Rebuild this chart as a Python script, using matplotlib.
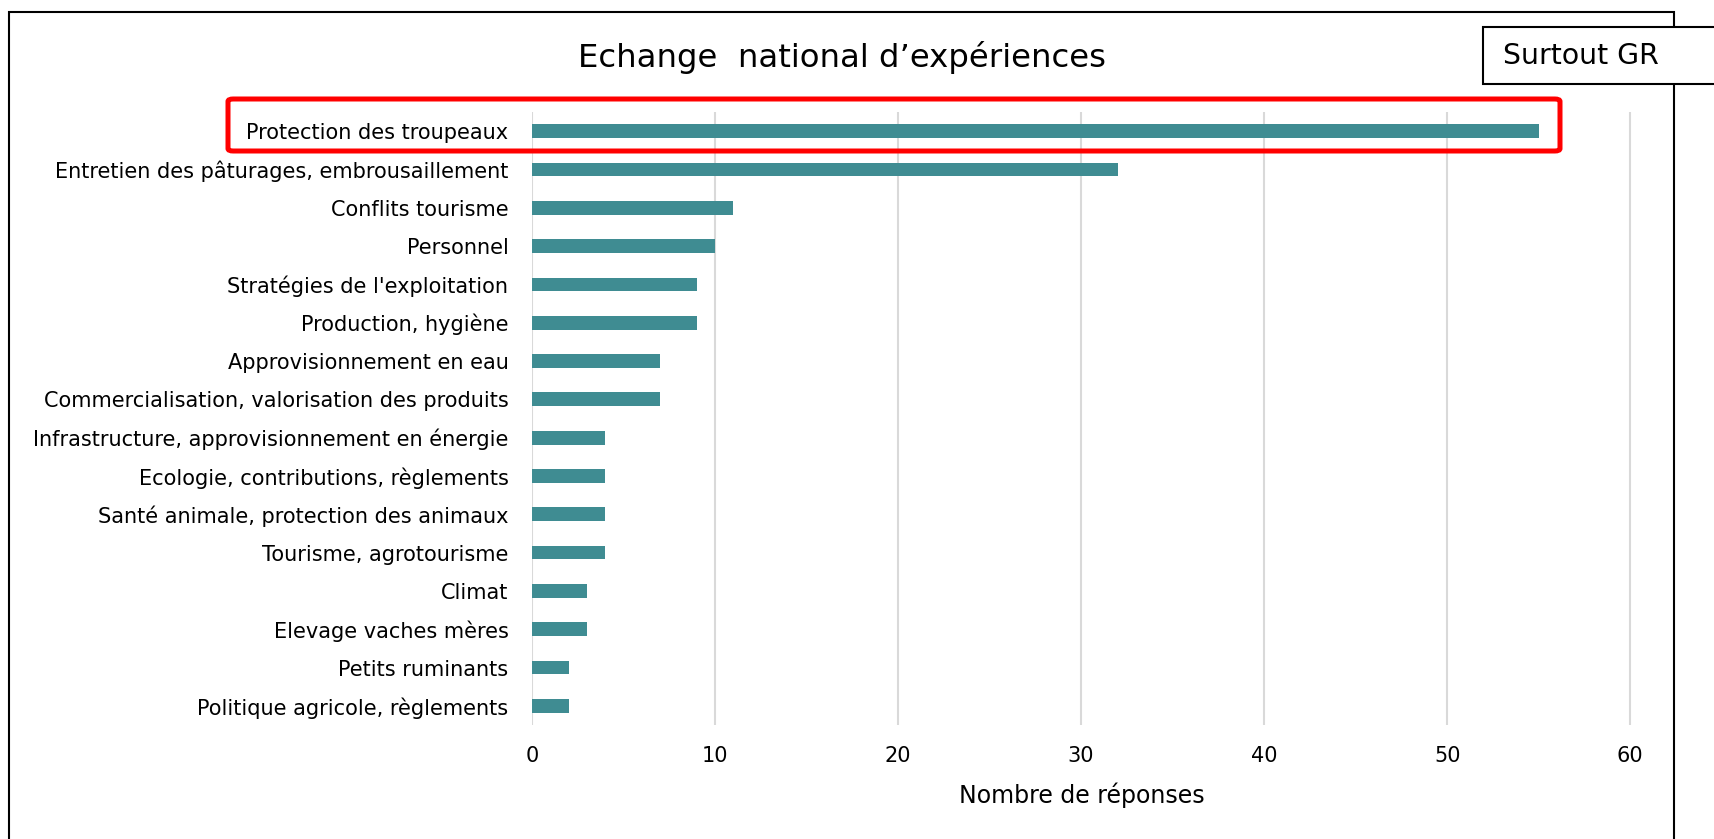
import matplotlib.pyplot as plt
from matplotlib.patches import Rectangle, FancyBboxPatch

categories = [
    "Protection des troupeaux",
    "Entretien des pâturages, embrousaillement",
    "Conflits tourisme",
    "Personnel",
    "Stratégies de l'exploitation",
    "Production, hygiène",
    "Approvisionnement en eau",
    "Commercialisation, valorisation des produits",
    "Infrastructure, approvisionnement en énergie",
    "Ecologie, contributions, règlements",
    "Santé animale, protection des animaux",
    "Tourisme, agrotourisme",
    "Climat",
    "Elevage vaches mères",
    "Petits ruminants",
    "Politique agricole, règlements",
]
responses = [55, 32, 11, 10, 9, 9, 7, 7, 4, 4, 4, 4, 3, 3, 2, 2]
xticks = [0, 10, 20, 30, 40, 50, 60]

W, H = 1715, 839
plt.rcParams['font.family'] = ['DejaVu Sans']

fig = plt.figure(figsize=(W / 100, H / 100), dpi=100)

def px(x0, y0, x1, y1):
    # pixel box (top-left origin) -> figure fraction
    return x0 / W, 1 - y1 / H, (x1 - x0) / W, (y1 - y0) / H

ax = fig.add_axes(px(532, 112, 1632, 725))
ypos = list(range(len(categories)))
ax.barh(ypos, responses, height=0.36, color='#3F8C92', zorder=3)
ax.set_ylim(len(categories) - 0.5, -0.5)
ax.set_xlim(0, 60.1)
ax.set_xticks(xticks)
ax.set_yticks(ypos)
ax.set_yticklabels(categories, fontsize=15)
ax.tick_params(axis='y', length=0, pad=17)
ax.tick_params(axis='x', length=0, pad=15, labelsize=15)
ax.grid(axis='x', color='#D9D9D9', lw=1.5, zorder=0)
for s in ax.spines.values():
    s.set_visible(False)
ax.set_xlabel("Nombre de réponses", fontsize=17, labelpad=12)

# outer chart frame
x0, y0, w, h = px(9, 12, 1674, 900)
fig.patches.append(Rectangle((x0, y0), w, h, transform=fig.transFigure,
                             fill=False, edgecolor='black', lw=1.5))

fig.text(842 / W, 1 - 57 / H, "Echange  national d\u2019expériences",
         fontsize=23.3, ha='center', va='center')

# "Surtout GR" box
x0, y0, w, h = px(1483, 27, 1730, 84)
fig.patches.append(Rectangle((x0, y0), w, h, transform=fig.transFigure,
                             facecolor='white', edgecolor='black', lw=1.5))
fig.text(1503 / W, 1 - 56 / H, "Surtout GR", fontsize=20.4, ha='left', va='center')

# red highlight around first category
x0, y0, w, h = px(228, 99, 1560, 151)
fig.patches.append(FancyBboxPatch((x0, y0), w, h, transform=fig.transFigure,
                                  boxstyle='round,pad=0,rounding_size=0.003',
                                  fill=False, edgecolor='#FF0000', lw=3.6))

fig.savefig('out.png', dpi=100)
